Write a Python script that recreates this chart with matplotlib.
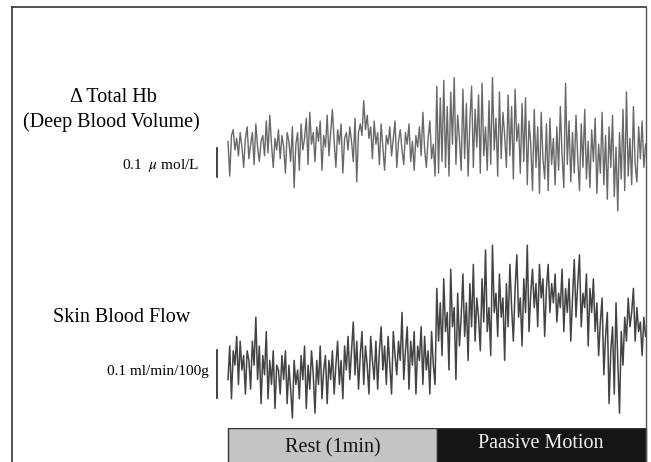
import matplotlib
matplotlib.use('Agg')
import matplotlib.pyplot as plt
from matplotlib.lines import Line2D
import numpy as np

plt.rcParams['font.family'] = ['Liberation Serif', 'DejaVu Serif']
plt.rcParams['mathtext.fontset'] = 'stix'

# --- data: sampled every 0.5 s, rest 0-60 s, passive motion 60-120 s ---
step = 0.5

# delta total Hb, units of 0.01 umol/L
total_hb = [
    3, -9, 5, 7, 0, 4, -2, 6, 1, -6,
    4, 8, -3, 2, 6, -5, 9, 1, -4, 3,
    5, -2, 10, -1, 12, 2, -6, 4, 0, 7,
    -3, 5, 1, -8, 6, 3, -4, 8, -13, 2,
    6, -7, 9, 0, 4, 11, -5, 13, 2, 6,
    -4, 8, 3, 10, -7, 5, 1, 12, -2, 6,
    14, 3, -6, 7, 2, 9, -8, 4, 6, 0,
    8, 3, -4, 11, -11, 6, 9, 5, 17, 7,
    12, 4, 8, -3, 10, 2, 6, -5, 9, 1,
    -7, 5, 2, 8, -2, 4, 10, -6, 3, 7,
    0, -5, 6, 2, 9, -4, 3, -7, 5, 1,
    8, -2, 13, 0, -6, 4, 10, -3, 2, -9,
    22, -8, 18, -4, 24, -6, 15, -9, 20, 2,
    25, -5, 12, 4, -7, 21, -3, 16, -9, 10,
    22, -6, 14, 1, 19, -8, 23, -2, 8, -7,
    17, -5, 25, 0, 11, -9, 20, -3, 13, 5,
    -6, 19, -2, 15, -10, 21, 3, 9, -8, 16,
    -4, 18, -12, 10, 2, -14, 14, -6, 8, -15,
    13, -3, -10, 9, -14, 11, -5, 4, -12, 8,
    -7, 15, -2, -13, 23, -5, 10, -11, 6, -8,
    12, -3, -14, 9, -6, 14, -10, 3, -13, 7,
    -4, 11, -15, 2, -8, 13, -12, 5, -17, 8,
    -6, 12, -16, 1, -21, 6, -10, 14, -14, 20,
    -9, 4, -12, 15, -5, -11, 8, -3, 10, -6, 2,
]

# skin blood flow, units of 0.01 ml/min/100g
skin_flow = [
    -2, 5, -6, 4, 1, 7, -3, 6, 0, 3,
    -5, 4, 2, -4, 6, 1, 11, -2, 5, -7,
    3, -1, 8, -6, 2, -3, 4, -8, 1, 0,
    -5, 3, -2, 4, -7, 1, -4, -10, 2, -3,
    0, -6, 3, -2, 5, -8, 1, -4, 4, -1,
    -9, 2, -3, 5, -6, 0, 3, -7, 2, -2,
    4, -5, 1, 6, -3, 2, -6, 5, 0, 7,
    -2, 4, 10, -1, 6, -4, 3, 8, -3, 5,
    1, -5, 7, 2, -2, 6, -4, 4, 9, 0,
    5, -3, 7, 1, -5, 8, 3, -1, 6, 2,
    12, -2, 4, 9, -4, 6, 1, 8, -5, 5,
    2, 9, -3, 7, 0, 4, -5, 8, 1, -3,
    17, 6, 14, 3, 19, 8, 12, 0, 21, 9,
    13, -2, 16, 5, 11, 20, 7, 14, 2, 18,
    9, 22, 6, 15, 11, 4, 19, 10, 25, 8,
    13, 3, 26, 12, 16, 7, 20, 11, 15, 2,
    18, 9, 22, 13, 6, 17, 24, 11, 15, 5,
    19, 12, 26, 8, 16, 21, 13, 18, 9, 22,
    15, 19, 7, 17, 22, 12, 18, 14, 20, 10,
    16, 13, 21, 8, 17, 12, 19, 6, 15, 23,
    11, 18, 24, 9, 16, 13, 20, 5, 17, 12,
    19, 8, 14, 3, 10, 15, -1, 7, 12, -7,
    4, 9, -5, 14, 2, -9, 8, 1, 11, 6,
    15, 9, 12, 17, 6, 13, 8, 10, 3, 11, 7,
]

phases = ['Rest (1min)', 'Paasive Motion']
phase_start = [0, 60]
phase_len = [60, 60]
phase_colors = ['#c4c4c4', '#151515']
phase_text = ['#111111', '#f2f2f2']

W, H = 651, 462
fig = plt.figure(figsize=(W / 100, H / 100), dpi=100)
fig.patch.set_facecolor('white')

px_per_s = 3.48
x0 = 228
xlim = (-x0 / px_per_s, (W - x0) / px_per_s)
bar_t = (217 - x0) / px_per_s


def add_ax(top_px, bot_px):
    ax = fig.add_axes([0, 1 - bot_px / H, 1, (bot_px - top_px) / H])
    ax.set_xlim(*xlim)
    ax.axis('off')
    return ax


# top trace: 0 at y=150 px, 2.9 px per 0.01 umol/L
ax1 = add_ax(60, 225)
ax1.set_ylim((150 - 225) / 2.9, (150 - 60) / 2.9)
t1 = np.arange(len(total_hb)) * step
ax1.plot(t1, total_hb, color='#686868', lw=1.0)
ax1.plot([bar_t, bar_t], [-9.3, 0.7], color='#222222', lw=1.2)

# bottom trace: 0 at y=370 px, 4.8 px per 0.01 ml/min/100g
ax2 = add_ax(230, 425)
ax2.set_ylim((370 - 425) / 4.8, (370 - 230) / 4.8)
t2 = np.arange(len(skin_flow)) * step
ax2.plot(t2, skin_flow, color='#434343', lw=1.1)
ax2.plot([bar_t, bar_t], [-5.8, 4.2], color='#222222', lw=1.2)

# phase bar
ax3 = add_ax(428, 475)
ax3.set_ylim(0, 1)
ax3.barh(0.5, phase_len, left=phase_start, height=1, color=phase_colors,
         edgecolor='#333333', linewidth=1.0)
for name, s, l, c, dy in zip(phases, phase_start, phase_len, phase_text, [0.58, 0.66]):
    ax3.text(s + l / 2, dy, name, ha='center', va='center', color=c, fontsize=14.5)

# labels
def ftext(x, y, s, **kw):
    fig.text(x / W, 1 - y / H, s, va='center', **kw)

ftext(113, 98, '\u0394 Total Hb', ha='center', fontsize=14.5)
ftext(111, 122, '(Deep Blood Volume)', ha='center', fontsize=14.5)
ftext(199, 166, r'0.1  $\mu$ mol/L', ha='right', fontsize=11)
ftext(122, 317, 'Skin Blood Flow', ha='center', fontsize=14.5)
ftext(209, 372, '0.1 ml/min/100g', ha='right', fontsize=11)

# frame
fig.add_artist(Line2D([12 / W, 12 / W], [0, 1 - 7 / H], color='#333333', lw=1.2))
fig.add_artist(Line2D([12 / W, 646 / W], [1 - 7 / H, 1 - 7 / H], color='#333333', lw=1.2))
fig.add_artist(Line2D([646 / W, 646 / W], [0, 1 - 7 / H], color='#555555', lw=1.0))

fig.savefig('out.png', dpi=100, facecolor='white')
